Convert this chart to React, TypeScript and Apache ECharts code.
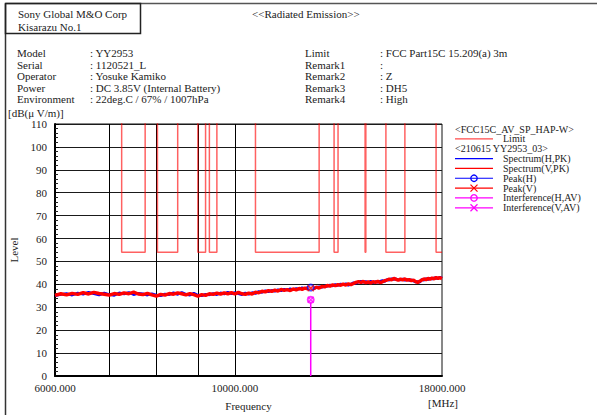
import React, { useEffect, useRef } from 'react';
import * as echarts from 'echarts';

// ---- data ----
const spectrumFreqsMHz = [
  6000, 6100, 6200, 6300, 6400, 6500, 6600, 6700, 6800, 6900,
  7000, 7100, 7200, 7300, 7400, 7500, 7600, 7700, 7800, 7900,
  8000, 8100, 8200, 8300, 8400, 8500, 8600, 8700, 8800, 8900,
  9000, 9100, 9200, 9300, 9400, 9500, 9600, 9700, 9800, 9900,
  10000, 10100, 10200, 10300, 10400, 10500, 10600, 10700, 10800, 10900,
  11000, 11100, 11200, 11300, 11400, 11500, 11600, 11700, 11800, 11900,
  12000, 12100, 12200, 12300, 12400, 12500, 12600, 12700, 12800, 12900,
  13000, 13100, 13200, 13300, 13400, 13500, 13600, 13700, 13800, 13900,
  14000, 14100, 14200, 14300, 14400, 14500, 14600, 14700, 14800, 14900,
  15000, 15100, 15200, 15300, 15400, 15500, 15600, 15700, 15800, 15900,
  16000, 16100, 16200, 16300, 16400, 16500, 16600, 16700, 16800, 16900,
  17000, 17100, 17200, 17300, 17400, 17500, 17600, 17700, 17800, 17900,
  18000,
];
const spectrumHPk = [
  35.0, 35.6, 36.0, 35.3, 36.2, 35.7, 36.6, 35.9, 35.4, 36.2,
  35.6, 35.2, 36.3, 35.8, 36.5, 35.5, 36.1, 35.9, 35.3, 35.9,
  35.4, 35.0, 35.8, 35.5, 36.4, 35.6, 36.5, 35.7, 35.3, 36.1,
  35.3, 35.0, 35.7, 35.4, 36.0, 35.5, 36.3, 35.8, 36.6, 35.9,
  36.4, 35.9, 35.5, 36.3, 35.7, 36.4, 36.0, 36.9, 36.5, 37.2,
  36.8, 37.4, 37.0, 37.7, 37.2, 37.9, 37.5, 38.1, 37.6, 38.2,
  37.9, 38.5, 38.1, 38.7, 38.3, 38.0, 38.6, 38.9, 38.7, 39.3,
  39.2, 39.7, 39.3, 40.0, 39.5, 40.2, 39.8, 40.3, 39.6, 40.1,
  40.7, 40.5, 41.0, 41.4, 40.9, 41.3, 40.8, 41.4, 40.7, 41.2,
  40.9, 41.4, 41.7, 41.2, 42.1, 41.8, 42.5, 42.1, 42.4, 42.0,
  41.9, 42.4, 41.7, 42.2, 41.7, 42.0, 41.4, 41.0, 41.3, 40.9,
  42.2, 41.8, 42.5, 42.1, 42.7, 42.3, 42.9, 42.5, 42.8, 43.1,
  42.7,
];
const spectrumVPk = [
  35.2, 35.9, 35.4, 36.1, 35.6, 36.4, 35.8, 36.5, 36.0, 35.7,
  35.3, 36.0, 35.6, 36.3, 35.9, 36.6, 35.8, 35.5, 36.1, 35.4,
  34.9, 35.6, 35.3, 36.0, 35.7, 36.3, 35.9, 35.4, 36.0, 35.5,
  34.8, 35.5, 35.2, 35.9, 35.6, 36.2, 35.7, 36.3, 35.9, 36.4,
  35.8, 36.5, 35.9, 35.6, 36.2, 35.8, 36.6, 36.3, 37.0, 36.7,
  37.3, 36.9, 37.5, 37.1, 37.8, 37.4, 37.7, 37.3, 38.0, 37.6,
  38.2, 37.8, 38.4, 38.0, 38.5, 38.1, 38.8, 38.4, 39.1, 38.9,
  39.5, 39.2, 39.8, 39.4, 39.9, 39.6, 40.1, 39.7, 40.2, 39.9,
  40.4, 40.9, 41.2, 40.8, 41.3, 40.7, 41.1, 40.6, 41.2, 40.9,
  41.3, 40.8, 41.1, 41.6, 41.9, 42.3, 42.0, 42.6, 42.2, 41.8,
  42.3, 41.9, 42.4, 41.8, 42.1, 41.6, 41.9, 41.2, 40.8, 41.4,
  41.9, 42.4, 42.0, 42.6, 42.2, 42.8, 42.4, 43.0, 42.6, 42.9,
  42.5,
];
// FCC Part15C restricted bands (AV limit 54 dBuV/m), drawn as a step outline
const limitFreqsMHz = [
  6000, 7250, 7250, 7750, 7750, 8025, 8025, 8500, 8500, 9000, 9000, 9200,
  9200, 9300, 9300, 9500, 9500, 10600, 10600, 12700, 12700, 13250, 13250, 13400,
  13400, 14470, 14470, 14500, 14500, 15350, 15350, 16200, 16200, 17700, 17700, 18000,
];
const limitLevels = [
  150, 150, 54, 54, 150, 150, 54, 54, 150, 150, 54, 54,
  150, 150, 54, 54, 150, 150, 54, 54, 150, 150, 54, 54,
  150, 150, 54, 54, 150, 150, 54, 54, 150, 150, 54, 54,
];
const peakFreqMHz = [12400];
const peakHLevel = [38.6];
const peakVLevel = [38.3];
const interfHLevel = [33.3];
const interfVLevel = [33.3];

const xLabelValues = [6000, 10000, 18000];
const xGridValues = [7000, 8000, 9000, 10000];
const yMin = 0;
const yMax = 110;
const yInterval = 10;

const infoLeftKeys = ['Model', 'Serial', 'Operator', 'Power', 'Environment'];
const infoLeftVals = [': YY2953', ': 1120521_L', ': Yosuke Kamiko', ': DC 3.85V (Internal Battery)', ': 22deg.C / 67% / 1007hPa'];
const infoRightKeys = ['Limit', 'Remark1', 'Remark2', 'Remark3', 'Remark4'];
const infoRightVals = [': FCC Part15C 15.209(a) 3m', ':', ': Z', ': DH5', ': High'];

const legendRows = [
  { kind: 'header', text: '<FCC15C_AV_SP_HAP-W>' },
  { kind: 'line', text: 'Limit', color: '#ff4a4a', sym: '' },
  { kind: 'header', text: '<210615 YY2953_03>' },
  { kind: 'line', text: 'Spectrum(H,PK)', color: '#0000ff', sym: '' },
  { kind: 'line', text: 'Spectrum(V,PK)', color: '#ff0000', sym: '' },
  { kind: 'line', text: 'Peak(H)', color: '#0000ff', sym: 'o' },
  { kind: 'line', text: 'Peak(V)', color: '#ff0000', sym: 'x' },
  { kind: 'line', text: 'Interference(H,AV)', color: '#ff00ff', sym: 'o' },
  { kind: 'line', text: 'Interference(V,AV)', color: '#ff00ff', sym: 'x' },
];

const FONT = '"Liberation Serif", "DejaVu Serif", serif';
const TXT = '#222';
const X_SYMBOL = 'path://M0,0L10,10M10,0L0,10';

function pairs(xs: number[], ys: number[]) {
  return xs.map((x, i) => [x, ys[i]]);
}

export default function App() {
  const ref = useRef<HTMLDivElement>(null);
  useEffect(() => {
    if (!ref.current) return;
    const chart = echarts.init(ref.current, undefined, { renderer: 'svg' });

    const graphic: any[] = [];
    // frame
    graphic.push({ type: 'line', shape: { x1: 5.5, y1: 3.5, x2: 597, y2: 3.5 }, style: { stroke: '#555', lineWidth: 1.5 } });
    graphic.push({ type: 'line', shape: { x1: 5.5, y1: 3.5, x2: 5.5, y2: 415 }, style: { stroke: '#333', lineWidth: 1.5 } });
    graphic.push({ type: 'rect', shape: { x: 5.5, y: 3.5, width: 135, height: 30 }, style: { fill: 'none', stroke: '#222', lineWidth: 1.5 } });
    const txt = (x: number, y: number, text: string, extra: any = {}) => ({
      type: 'text', x, y,
      style: { text, fill: TXT, font: `11px ${FONT}`, textVerticalAlign: 'middle', ...extra },
    });
    graphic.push(txt(18, 14, 'Sony Global M&O Corp'));
    graphic.push(txt(18, 27, 'Kisarazu No.1'));
    graphic.push(txt(252, 14, '<<Radiated Emission>>'));
    const rowY = [53, 64.5, 76, 87.5, 99];
    infoLeftKeys.forEach((k, i) => {
      graphic.push(txt(17, rowY[i], k));
      graphic.push(txt(90, rowY[i], infoLeftVals[i]));
    });
    infoRightKeys.forEach((k, i) => {
      graphic.push(txt(305, rowY[i], k));
      graphic.push(txt(380, rowY[i], infoRightVals[i]));
    });
    graphic.push(txt(8, 113, '[dB(\u03bc V/m)]'));
    graphic.push(txt(443, 403, '[MHz]', { textAlign: 'center' }));

    // legend
    const legY0 = 129;
    const legDy = 9.85;
    legendRows.forEach((r, i) => {
      const y = legY0 + i * legDy;
      if (r.kind === 'header') {
        graphic.push({ type: 'text', x: 455, y, style: { text: r.text, fill: TXT, font: `10px ${FONT}`, textVerticalAlign: 'middle' } });
      } else {
        graphic.push({ type: 'line', shape: { x1: 455, y1: y, x2: 493, y2: y }, style: { stroke: r.color, lineWidth: 1.2 } });
        if (r.sym === 'o') {
          graphic.push({ type: 'circle', shape: { cx: 474, cy: y, r: 3.2 }, style: { fill: 'none', stroke: r.color, lineWidth: 1.3 } });
        } else if (r.sym === 'x') {
          graphic.push({ type: 'line', shape: { x1: 470.5, y1: y - 3.5, x2: 477.5, y2: y + 3.5 }, style: { stroke: r.color, lineWidth: 1.3 } });
          graphic.push({ type: 'line', shape: { x1: 477.5, y1: y - 3.5, x2: 470.5, y2: y + 3.5 }, style: { stroke: r.color, lineWidth: 1.3 } });
        }
        graphic.push({ type: 'text', x: 503, y, style: { text: r.text, fill: TXT, font: `10px ${FONT}`, textVerticalAlign: 'middle' } });
      }
    });

    chart.setOption({
      animation: false,
      backgroundColor: '#fff',
      textStyle: { fontFamily: FONT, color: TXT },
      grid: { left: 55, right: 155, top: 124, bottom: 41, show: true, borderColor: '#111', borderWidth: 1 },
      xAxis: {
        type: 'log',
        logBase: 10,
        min: 6000,
        max: 18000,
        name: 'Frequency',
        nameLocation: 'middle',
        nameGap: 24,
        nameTextStyle: { fontSize: 11, color: TXT, fontFamily: FONT },
        axisLine: { show: true, lineStyle: { color: '#000', width: 2 } },
        axisTick: { show: false },
        splitLine: { show: false },
        axisLabel: {
          show: true,
          customValues: xLabelValues,
          formatter: (v: number) => Number(v).toFixed(3),
          fontSize: 11,
          color: TXT,
          fontFamily: FONT,
          margin: 6,
        },
      },
      yAxis: {
        type: 'value',
        min: yMin,
        max: yMax,
        interval: yInterval,
        name: 'Level',
        nameLocation: 'middle',
        nameGap: 30,
        nameRotate: 90,
        nameTextStyle: { fontSize: 11, color: TXT, fontFamily: FONT },
        axisLine: { show: true, lineStyle: { color: '#000', width: 2 } },
        axisTick: { show: true, inside: true, length: 4, lineStyle: { color: '#000' } },
        minorTick: { show: true, splitNumber: 5, length: 3, lineStyle: { color: '#222' } },
        splitLine: { show: true, lineStyle: { color: '#1a1a1a', width: 1 } },
        axisLabel: { fontSize: 11, color: TXT, fontFamily: FONT, margin: 8 },
      },
      series: [
        {
          name: 'Limit',
          type: 'line',
          data: pairs(limitFreqsMHz, limitLevels),
          symbol: 'none',
          clip: true,
          z: 4,
          lineStyle: { color: 'rgba(255,0,0,0.62)', width: 1.5 },
          markLine: {
            silent: true,
            symbol: 'none',
            label: { show: false },
            lineStyle: { color: '#000', type: 'solid', width: 1 },
            data: xGridValues.map((v) => ({ xAxis: v })),
            z: 3,
          },
        },
        {
          name: 'Spectrum(H,PK)',
          type: 'line',
          data: pairs(spectrumFreqsMHz, spectrumHPk),
          symbol: 'none',
          z: 5,
          lineStyle: { color: '#0000ff', width: 2.6 },
        },
        {
          name: 'Spectrum(V,PK)',
          type: 'line',
          data: pairs(spectrumFreqsMHz, spectrumVPk),
          symbol: 'none',
          z: 6,
          lineStyle: { color: '#ff0000', width: 3.4 },
        },
        {
          name: 'Interference stem',
          type: 'line',
          data: [[peakFreqMHz[0], 0], [peakFreqMHz[0], interfHLevel[0]]],
          symbol: 'none',
          z: 7,
          lineStyle: { color: '#ff00ff', width: 1.5 },
        },
        {
          name: 'Peak(H)',
          type: 'scatter',
          data: pairs(peakFreqMHz, peakHLevel),
          symbol: 'emptyCircle',
          symbolSize: 6,
          z: 8,
          itemStyle: { color: '#0000ff', borderColor: '#0000ff', borderWidth: 1.2, opacity: 0.7 },
        },
        {
          name: 'Peak(V)',
          type: 'scatter',
          data: pairs(peakFreqMHz, peakVLevel),
          symbol: X_SYMBOL,
          symbolSize: 6,
          z: 9,
          itemStyle: { color: 'transparent', borderColor: '#ff0000', borderWidth: 1.2 },
        },
        {
          name: 'Interference(H,AV)',
          type: 'scatter',
          data: pairs(peakFreqMHz, interfHLevel),
          symbol: 'emptyCircle',
          symbolSize: 6,
          z: 10,
          itemStyle: { color: '#ff00ff', borderColor: '#ff00ff', borderWidth: 1.2 },
        },
        {
          name: 'Interference(V,AV)',
          type: 'scatter',
          data: pairs(peakFreqMHz, interfVLevel),
          symbol: X_SYMBOL,
          symbolSize: 6,
          z: 11,
          itemStyle: { color: 'transparent', borderColor: '#ff00ff', borderWidth: 1.2 },
        },
      ],
      graphic,
    });
    return () => chart.dispose();
  }, []);
  return <div ref={ref} style={{ position: 'fixed', left: 0, top: 0, width: 597, height: 417 }} />;
}
